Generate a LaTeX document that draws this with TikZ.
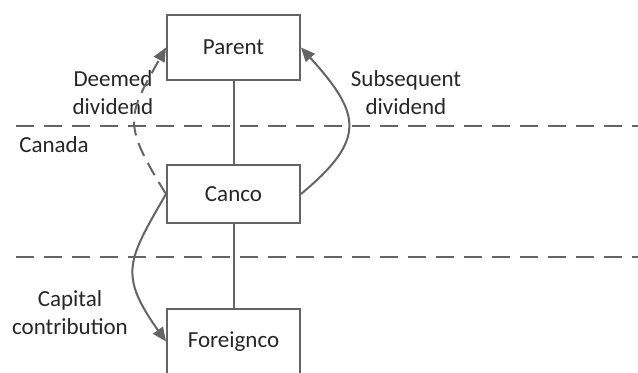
\documentclass[tikz,border=0pt]{standalone}
\usepackage{fontspec}
\setmainfont{Carlito}
\usetikzlibrary{arrows.meta}

\definecolor{linegray}{RGB}{100,100,100}
\definecolor{textgray}{RGB}{38,38,38}

\begin{document}
\begin{tikzpicture}[x=0.5pt,y=-0.5pt,font=\fontsize{11.5}{14}\selectfont,
    border/.style={draw=linegray,line width=1pt,dash pattern=on 9pt off 5pt},
    flow/.style={draw=linegray,line width=1pt,-{Triangle[length=7pt,width=6pt]}}]

        \useasboundingbox (0,0) rectangle (638,372);
        \clip (0,0) rectangle (638,372);

        % country borders
        \draw[border] (16,126) -- (638,126);
        \draw[border] (16,257) -- (638,257);

        \begin{scope}[every node/.style={draw=linegray,line width=1pt,text=textgray,
            minimum width=66.5pt,minimum height=32.5pt}]
          \node (parent)    at (233.5,47.5)  {Parent};
          \node (canco)     at (233.5,194)   [minimum height=29pt] {Canco};
          \node (foreignco) at (233.5,341.5) {Foreignco};
        \end{scope}

        \begin{scope}[every node/.style={text=textgray,align=center}]
          \node (deemed)  at (113,93)  {Deemed\\dividend};
          \node (subseq)  at (406,93)  {Subsequent\\dividend};
          \node (capital) at (70,313)  {Capital\\contribution};
          \node (canada)  at (54,145)  {Canada};
        \end{scope}

        \begin{scope}[every edge/.style={draw=linegray,line width=1pt}]
          \path (parent) edge (canco);
          \path (canco)  edge (foreignco);
        \end{scope}

        \path[flow] (canco.east) .. controls (367,139) and (361,114) .. (parent.east);
        \path[flow,dash pattern=on 7pt off 4pt] (canco.west) .. controls (122,123) and (127,117) .. (parent.west);
        \path[flow] (canco.west) .. controls (128,260) and (118,274) .. (foreignco.west);

      \end{tikzpicture}
\end{document}
